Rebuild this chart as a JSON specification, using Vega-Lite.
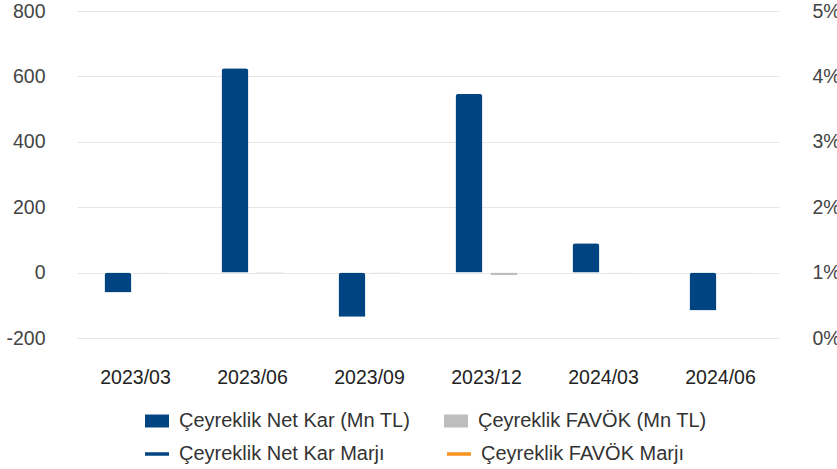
{
  "$schema": "https://vega.github.io/schema/vega-lite/v6.json",
  "width": 702,
  "height": 327,
  "autosize": {"type": "none"},
  "padding": {"left": 77, "top": 11, "right": 58, "bottom": 131},
  "config": {
    "font": "Liberation Sans",
    "view": {"stroke": null},
    "axis": {"labelFont": "Liberation Sans", "labelFontSize": 19.5, "labelColor": "#444444", "domain": false, "ticks": false, "title": null},
    "legend": {"labelFont": "Liberation Sans", "labelFontSize": 20, "labelColor": "#333333", "title": null, "labelLimit": 400}
  },
  "datasets": {
    "bars": [
      {"donem": "2023/03", "seri": "Çeyreklik Net Kar (Mn TL)", "deger": -61},
      {"donem": "2023/03", "seri": "Çeyreklik FAVÖK (Mn TL)", "deger": 1},
      {"donem": "2023/06", "seri": "Çeyreklik Net Kar (Mn TL)", "deger": 625},
      {"donem": "2023/06", "seri": "Çeyreklik FAVÖK (Mn TL)", "deger": 2},
      {"donem": "2023/09", "seri": "Çeyreklik Net Kar (Mn TL)", "deger": -135},
      {"donem": "2023/09", "seri": "Çeyreklik FAVÖK (Mn TL)", "deger": -2},
      {"donem": "2023/12", "seri": "Çeyreklik Net Kar (Mn TL)", "deger": 547},
      {"donem": "2023/12", "seri": "Çeyreklik FAVÖK (Mn TL)", "deger": -7},
      {"donem": "2024/03", "seri": "Çeyreklik Net Kar (Mn TL)", "deger": 90},
      {"donem": "2024/03", "seri": "Çeyreklik FAVÖK (Mn TL)", "deger": 1},
      {"donem": "2024/06", "seri": "Çeyreklik Net Kar (Mn TL)", "deger": -116},
      {"donem": "2024/06", "seri": "Çeyreklik FAVÖK (Mn TL)", "deger": 1}
    ],
    "margins": [
      {"donem": "2023/03", "seri": "Çeyreklik Net Kar Marjı", "marj": null},
      {"donem": "2023/03", "seri": "Çeyreklik FAVÖK Marjı", "marj": null},
      {"donem": "2023/06", "seri": "Çeyreklik Net Kar Marjı", "marj": null},
      {"donem": "2023/06", "seri": "Çeyreklik FAVÖK Marjı", "marj": null},
      {"donem": "2023/09", "seri": "Çeyreklik Net Kar Marjı", "marj": null},
      {"donem": "2023/09", "seri": "Çeyreklik FAVÖK Marjı", "marj": null},
      {"donem": "2023/12", "seri": "Çeyreklik Net Kar Marjı", "marj": null},
      {"donem": "2023/12", "seri": "Çeyreklik FAVÖK Marjı", "marj": null},
      {"donem": "2024/03", "seri": "Çeyreklik Net Kar Marjı", "marj": null},
      {"donem": "2024/03", "seri": "Çeyreklik FAVÖK Marjı", "marj": null},
      {"donem": "2024/06", "seri": "Çeyreklik Net Kar Marjı", "marj": null},
      {"donem": "2024/06", "seri": "Çeyreklik FAVÖK Marjı", "marj": null}
    ]
  },
  "layer": [
    {
      "data": {"name": "bars"},
      "mark": {"type": "bar", "cornerRadiusEnd": 3},
      "encoding": {
        "x": {"field": "donem", "type": "nominal", "sort": null,
              "scale": {"paddingInner": 0.47, "paddingOuter": 0.235},
              "axis": {"labelAngle": 0, "labelPadding": 30, "grid": false, "labelColor": "#222222"}},
        "xOffset": {"field": "seri", "type": "nominal",
                    "scale": {"domain": ["Çeyreklik Net Kar (Mn TL)", "Çeyreklik FAVÖK (Mn TL)"], "paddingInner": 0.23, "paddingOuter": 0}},
        "y": {"field": "deger", "type": "quantitative",
              "scale": {"domain": [-200, 800], "nice": false},
              "axis": {"values": [-200, 0, 200, 400, 600, 800], "grid": true, "gridColor": "#e6e6e6", "labelPadding": 32, "labelExpr": "'' + datum.value"}},
        "color": {"field": "seri", "type": "nominal",
                  "scale": {"domain": ["Çeyreklik Net Kar (Mn TL)", "Çeyreklik FAVÖK (Mn TL)"], "range": ["#004481", "#bdbdbd"]},
                  "legend": {"orient": "none", "legendX": 68, "legendY": 398, "direction": "horizontal", "columns": 2, "columnPadding": 33,
                             "symbolType": "M-1,-0.54H1V0.54H-1Z", "symbolSize": 576, "symbolStrokeWidth": 0, "labelOffset": 10}}
      }
    },
    {
      "data": {"name": "margins"},
      "mark": {"type": "line", "strokeWidth": 3},
      "encoding": {
        "x": {"field": "donem", "type": "nominal", "sort": null},
        "y": {"field": "marj", "type": "quantitative",
              "scale": {"domain": [0, 0.05], "nice": false},
              "axis": {"orient": "right", "values": [0, 0.01, 0.02, 0.03, 0.04, 0.05], "format": ".0%", "grid": false, "labelPadding": 33}},
        "stroke": {"field": "seri", "type": "nominal",
                   "scale": {"domain": ["Çeyreklik Net Kar Marjı", "Çeyreklik FAVÖK Marjı"], "range": ["#004481", "#f7941d"]},
                   "legend": {"orient": "none", "legendX": 66, "legendY": 429, "direction": "horizontal", "columns": 2, "columnPadding": 55,
                              "symbolType": "stroke", "symbolSize": 576, "symbolStrokeWidth": 3.5, "labelOffset": 8}}
      }
    }
  ],
  "resolve": {"scale": {"y": "independent"}}
}
